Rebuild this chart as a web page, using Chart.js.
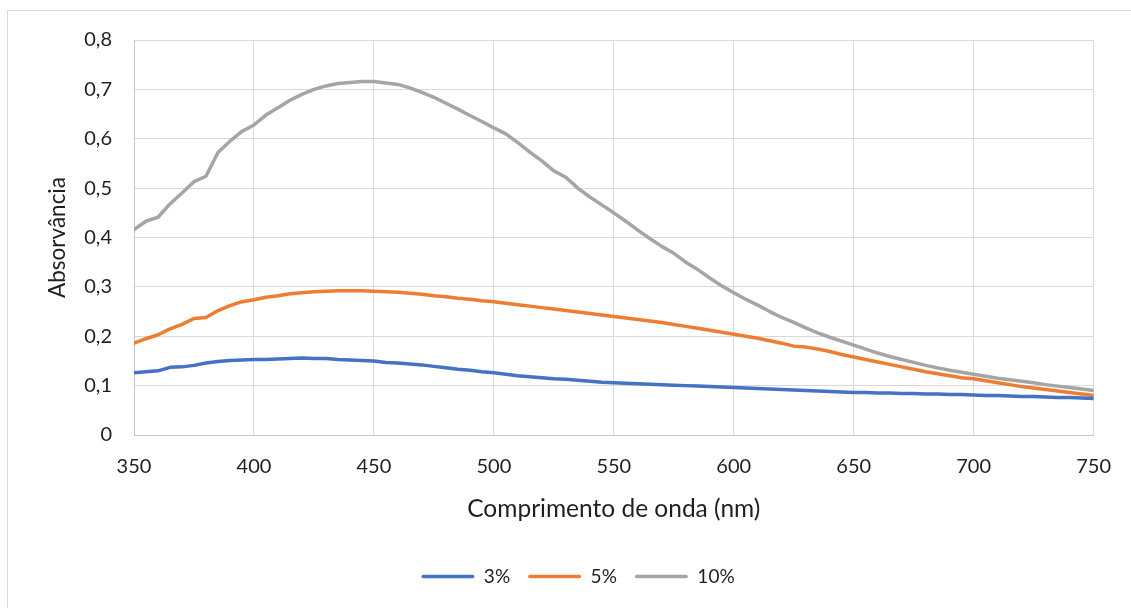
<!DOCTYPE html>
<html>
<head>
<meta charset="utf-8">
<script src="https://cdn.jsdelivr.net/npm/chart.js@4.4.1/dist/chart.umd.min.js"></script>
<style>
  html, body { margin: 0; padding: 0; background: #ffffff; }
  #wrap { position: relative; width: 1131px; height: 608px; overflow: hidden; }
  #frame { position: absolute; left: 7px; top: 10px; width: 1200px; height: 700px;
           border-left: 1px solid #d9d9d9; border-top: 1px solid #d9d9d9; }
  #c { position: absolute; left: 0; top: 0; }
</style>
</head>
<body>
<div id="wrap">
  <div id="frame"></div>
  <canvas id="c" width="1131" height="608"></canvas>
</div>
<script>
// Wavelengths (nm), sampled every 5 nm
const wavelengths = [];
for (let w = 350; w <= 750; w += 5) wavelengths.push(w);

// Absorbance spectra for each concentration
const abs3 = [
  0.126, 0.128, 0.130, 0.137, 0.138, 0.141, 0.146, 0.149, 0.151, 0.152,
  0.153, 0.153, 0.154, 0.155, 0.156, 0.155, 0.155, 0.153, 0.152, 0.151,
  0.150, 0.147, 0.146, 0.144, 0.142, 0.139, 0.136, 0.133, 0.131, 0.128,
  0.126, 0.123, 0.120, 0.118, 0.116, 0.114, 0.113, 0.111, 0.109, 0.107,
  0.106, 0.105, 0.104, 0.103, 0.102, 0.101, 0.100, 0.099, 0.098, 0.097,
  0.096, 0.095, 0.094, 0.093, 0.092, 0.091, 0.090, 0.089, 0.088, 0.087,
  0.086, 0.086, 0.085, 0.085, 0.084, 0.084, 0.083, 0.083, 0.082, 0.082,
  0.081, 0.080, 0.080, 0.079, 0.078, 0.078, 0.077, 0.076, 0.076, 0.075,
  0.074
];
const abs5 = [
  0.186, 0.195, 0.203, 0.215, 0.224, 0.236, 0.238, 0.252, 0.262, 0.270,
  0.274, 0.279, 0.282, 0.286, 0.288, 0.290, 0.291, 0.292, 0.292, 0.292,
  0.291, 0.290, 0.289, 0.287, 0.285, 0.282, 0.280, 0.277, 0.275, 0.272,
  0.270, 0.267, 0.264, 0.261, 0.258, 0.255, 0.252, 0.249, 0.246, 0.243,
  0.240, 0.237, 0.234, 0.231, 0.228, 0.224, 0.220, 0.216, 0.212, 0.208,
  0.204, 0.200, 0.196, 0.191, 0.186, 0.180, 0.178, 0.174, 0.169, 0.163,
  0.158, 0.153, 0.148, 0.143, 0.138, 0.133, 0.128, 0.124, 0.120, 0.116,
  0.114, 0.110, 0.106, 0.102, 0.098, 0.095, 0.092, 0.089, 0.086, 0.083,
  0.080
];
const abs10 = [
  0.416, 0.433, 0.441, 0.468, 0.490, 0.513, 0.524, 0.572, 0.595, 0.615,
  0.628, 0.648, 0.663, 0.678, 0.690, 0.700, 0.707, 0.712, 0.714, 0.716,
  0.716, 0.713, 0.710, 0.703, 0.694, 0.684, 0.672, 0.660, 0.647, 0.635,
  0.622, 0.610, 0.592, 0.573, 0.555, 0.535, 0.522, 0.500, 0.482, 0.466,
  0.450, 0.433, 0.415, 0.398, 0.382, 0.368, 0.350, 0.335, 0.318, 0.302,
  0.288, 0.275, 0.263, 0.250, 0.238, 0.228, 0.217, 0.207, 0.198, 0.190,
  0.182, 0.174, 0.166, 0.159, 0.153, 0.147, 0.141, 0.136, 0.131, 0.127,
  0.123, 0.119, 0.115, 0.112, 0.109, 0.106, 0.102, 0.099, 0.096, 0.093,
  0.090
];

const seriesLabels = ['3%', '5%', '10%'];
const seriesColors = ['#4472c4', '#ed7d31', '#a5a5a5'];
const seriesValues = [abs3, abs5, abs10];

const fontFamily = 'Lato, "Open Sans", sans-serif';
const textColor = '#1f1f1f';

const datasets = seriesValues.map((vals, i) => ({
  label: seriesLabels[i],
  data: wavelengths.map((w, k) => ({ x: w, y: vals[k] })),
  borderColor: seriesColors[i],
  backgroundColor: seriesColors[i],
  borderWidth: 3.5,
  pointRadius: 0,
  tension: 0,
  borderJoinStyle: 'round',
  borderCapStyle: 'round'
}));

new Chart(document.getElementById('c'), {
  type: 'line',
  data: { datasets },
  options: {
    responsive: false,
    animation: false,
    events: [],
    layout: { padding: { left: 62, right: 37, top: 40, bottom: 12 } },
    plugins: {
      tooltip: { enabled: false },
      legend: {
        position: 'bottom',
        labels: {
          boxWidth: 53,
          boxHeight: 3.5,
          padding: 18,
          color: textColor,
          font: { family: fontFamily, size: 19 },
          useBorderRadius: true,
          borderRadius: 1.75,
          generateLabels: (chart) =>
            Chart.defaults.plugins.legend.labels.generateLabels(chart).map(it => ({
              ...it, fillStyle: it.strokeStyle, lineWidth: 0
            }))
        }
      }
    },
    scales: {
      x: {
        type: 'linear',
        min: 350,
        max: 750,
        afterFit: (s) => { s.height = 114; },
        ticks: {
          stepSize: 50,
          padding: 20,
          color: textColor,
          font: { family: fontFamily, size: 20 }
        },
        grid: { color: '#d9d9d9', drawTicks: false },
        border: { color: '#c8c8c8' },
        title: {
          display: true,
          text: 'Comprimento de onda (nm)',
          color: textColor,
          font: { family: fontFamily, size: 24.5 },
          padding: { top: 0, bottom: 25 }
        }
      },
      y: {
        min: 0,
        max: 0.8,
        afterFit: (s) => { s.width = 72; },
        ticks: {
          stepSize: 0.1,
          padding: 22,
          color: textColor,
          font: { family: fontFamily, size: 20 },
          callback: (v) => (Math.abs(v) < 1e-9 ? '0' : v.toFixed(1).replace('.', ','))
        },
        grid: { color: '#d9d9d9', drawTicks: false },
        border: { color: '#c8c8c8' },
        title: {
          display: true,
          text: 'Absorvância',
          color: textColor,
          font: { family: fontFamily, size: 22.5 },
          padding: { top: -17.5, bottom: 0 }
        }
      }
    }
  }
});
</script>
</body>
</html>
